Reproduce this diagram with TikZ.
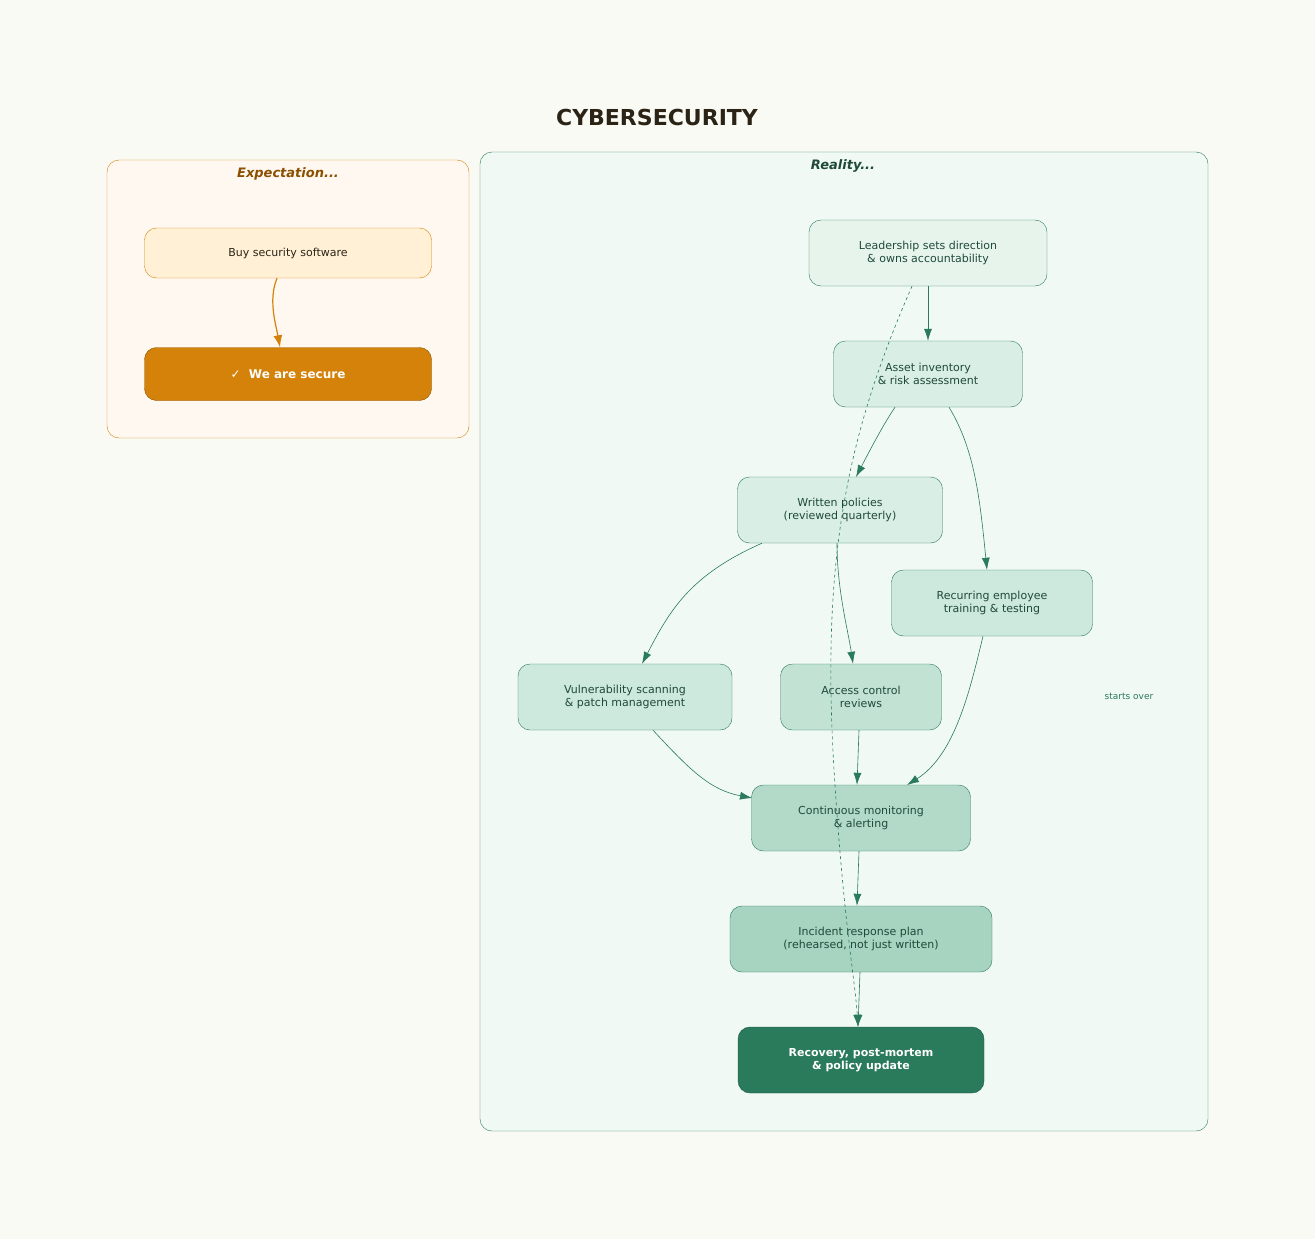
\documentclass[tikz,border=0pt]{standalone}
\usepackage{fontspec}
\setmainfont{DejaVu Sans}
\usetikzlibrary{arrows.meta, positioning, calc}
\definecolor{bg}{HTML}{FAFAF4}
\definecolor{titletext}{HTML}{2B2416}
\definecolor{exfill}{HTML}{FFF8F0}
\definecolor{exline}{HTML}{D4820A}
\definecolor{extext}{HTML}{8B5000}
\definecolor{buyfill}{HTML}{FFF0D6}
\definecolor{refill}{HTML}{F0F9F4}
\definecolor{reline}{HTML}{2A7A5C}
\definecolor{redark}{HTML}{1D5A43}
\definecolor{retext}{HTML}{1F4A3A}
\definecolor{shadeA}{HTML}{E6F4EC}
\definecolor{shadeB}{HTML}{D9EEE4}
\definecolor{shadeC}{HTML}{CDE8DC}
\definecolor{shadeD}{HTML}{C2E2D4}
\definecolor{shadeE}{HTML}{B3DAC9}
\definecolor{shadeF}{HTML}{A6D4C0}
\begin{document}
\begin{tikzpicture}[
  x=1pt, y=-1pt,
  font=\fontsize{11}{13}\selectfont,
  stage/.style  = {draw=reline, rounded corners=12pt, minimum height=66pt, align=center, text=retext},
  exstage/.style = {draw=exline, rounded corners=12pt, align=center},
  arrow/.style = {reline, semithick, -{Latex[length=12pt, width=8pt]}},
  panel/.style = {rounded corners=12pt}
]

  % canvas
  \fill[bg] (0,0) rectangle (1315,1239);
  \node[font=\bfseries\fontsize{22}{26}\selectfont, text=titletext] (title) at (657,117) {CYBERSECURITY};

  % expectation panel
  \draw[panel, draw=exline, fill=exfill] (107,160) rectangle (469,438);
  \node[font=\bfseries\itshape\fontsize{13}{15}\selectfont, text=extext] (expect) at (288,174) {Expectation...};
  \node[exstage, fill=buyfill, minimum width=287pt, minimum height=50pt, text=titletext] (buy) at (288,253) {Buy security software};
  \node[exstage, fill=exline, draw=extext, minimum width=287pt, minimum height=53pt, text=white,
        font=\bfseries\fontsize{12}{14}\selectfont] (secure) at (288,374) {✓\ \ We are secure};
  \draw[exline, very thick, -{Latex[length=12pt, width=9pt]}] (buy.south) ++(-11,0) coordinate (b1) .. controls (268,300) and (276,325) .. (secure.north -| 280,0);

  % reality panel
  \draw[panel, draw=reline, fill=refill] (480,152) rectangle (1208,1131);
  \node[font=\bfseries\itshape\fontsize{13}{15}\selectfont, text=retext] (reality) at (843,166) {Reality...};

  % stages
  \node[stage, fill=shadeA, minimum width=238pt] (leader) at (928,253) {Leadership sets direction\\\& owns accountability};
  \node[stage, fill=shadeB, minimum width=189pt] (asset) at (928,374) {Asset inventory\\\& risk assessment};
  \node[stage, fill=shadeB, minimum width=205pt] (written) at (840,510) {Written policies\\(reviewed quarterly)};
  \node[stage, fill=shadeC, minimum width=201pt] (training) at (992,603) {Recurring employee\\training \& testing};
  \node[stage, fill=shadeC, minimum width=214pt] (vuln) at (625,697) {Vulnerability scanning\\\& patch management};
  \node[stage, fill=shadeD, minimum width=161pt] (access) at (861,697) {Access control\\reviews};
  \node[stage, fill=shadeE, minimum width=219pt] (monitor) at (861,818) {Continuous monitoring\\\& alerting};
  \node[stage, fill=shadeF, minimum width=262pt] (incident) at (861,939) {Incident response plan\\(rehearsed, not just written)};
  \node[stage, fill=reline, draw=redark, minimum width=246pt, text=white, font=\bfseries\fontsize{11}{13}\selectfont] (recovery) at (861,1060) {Recovery, post-mortem\\\& policy update};
  \node[text=reline, font=\fontsize{9}{11}\selectfont] (again) at (1129,696) {starts over};

  % connectors
  \draw[arrow] (leader.south) -- (asset.north);
  \draw[arrow] (asset.south) ++(-33,0) coordinate (a1) .. controls (883,425) and (870,450) .. (856,477);
  \draw[arrow] (asset.south) ++(21,0) coordinate (a2) .. controls (975,450) and (980,500) .. (training.north -| 987,0);
  \draw[arrow] (written.south) ++(-78,0) coordinate (w1) .. controls (690,575) and (670,610) .. (vuln.north -| 642,0);
  \draw[arrow] (written.south) ++(-3,0) coordinate (w2) .. controls (837,590) and (848,630) .. (access.north -| 853,0);
  \draw[arrow] (training.south) ++(-9,0) coordinate (t1) .. controls (970,690) and (955,755) .. (907,785);
  \draw[arrow] (vuln.south) ++(28,0) coordinate (v1) .. controls (690,770) and (710,790) .. (752,798);
  \draw[arrow] (access.south) ++(-2,0) coordinate (c1) -- (monitor.north -| 857,0);
  \draw[arrow] (monitor.south) ++(-2,0) coordinate (m1) -- (incident.north -| 857,0);
  \draw[arrow] (incident.south) ++(-1,0) coordinate (i1) -- (recovery.north -| 858,0);
  \draw[arrow, dashed] (leader.south) ++(-16,0) coordinate (l1) .. controls (840,450) and (820,580) .. (836,800) .. controls (845,930) and (855,980) .. (recovery.north -| 858,0);

\end{tikzpicture}
\end{document}
